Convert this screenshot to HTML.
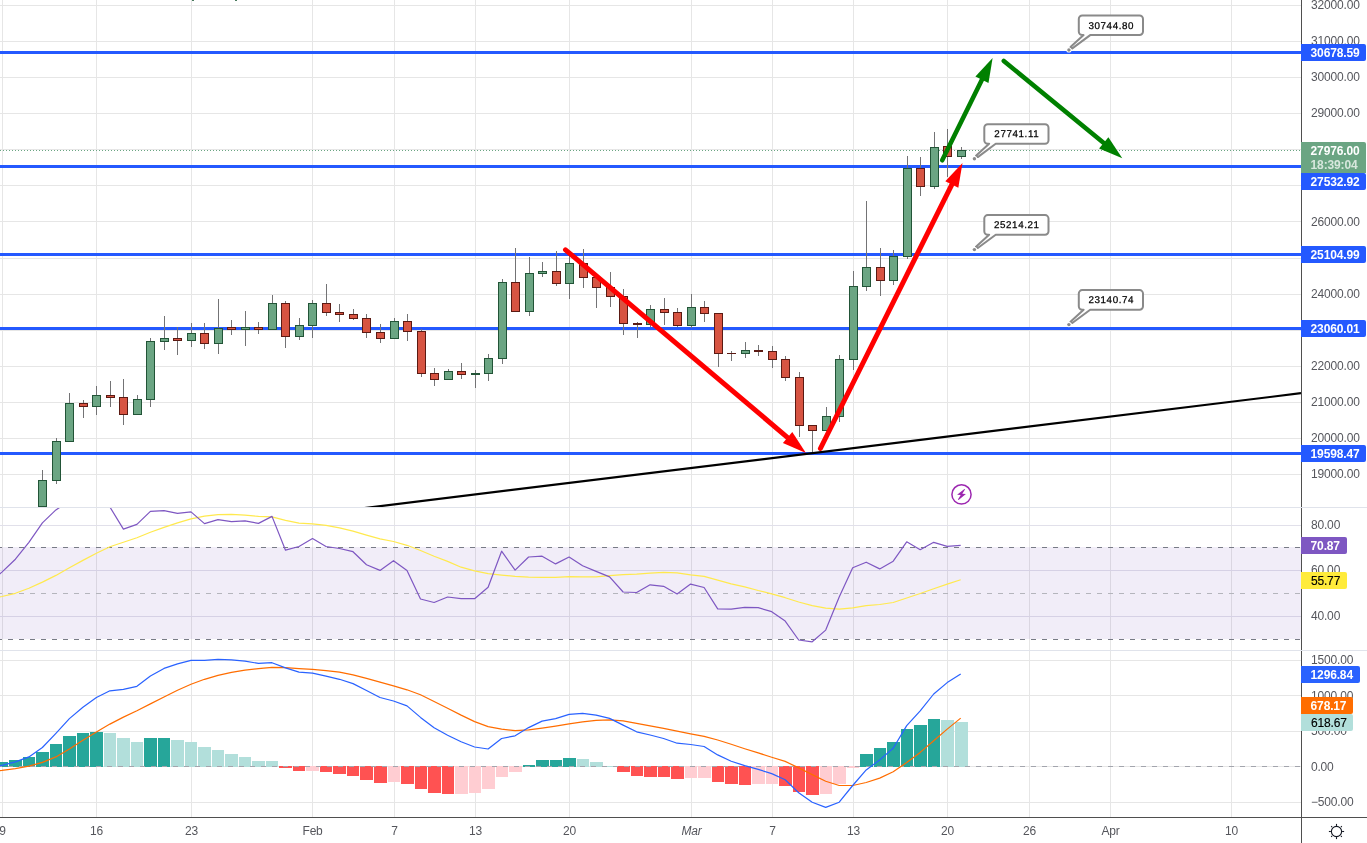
<!DOCTYPE html><html><head><meta charset="utf-8"><title>chart</title><style>html,body{margin:0;padding:0;background:#fff;overflow:hidden}body{width:1367px;height:843px;position:relative;font-family:"Liberation Sans",sans-serif}</style></head><body><svg width="1367" height="843" viewBox="0 0 1367 843" style="position:absolute;left:0;top:0;will-change:transform;font-family:'Liberation Sans',sans-serif">
<rect width="1367" height="843" fill="#fff"/>
<g shape-rendering="crispEdges">
<rect x="2" y="0" width="1" height="817" fill="#e6e6e6"/>
<rect x="96" y="0" width="1" height="817" fill="#e6e6e6"/>
<rect x="191" y="0" width="1" height="817" fill="#e6e6e6"/>
<rect x="312" y="0" width="1" height="817" fill="#e6e6e6"/>
<rect x="394" y="0" width="1" height="817" fill="#e6e6e6"/>
<rect x="475" y="0" width="1" height="817" fill="#e6e6e6"/>
<rect x="569" y="0" width="1" height="817" fill="#e6e6e6"/>
<rect x="691" y="0" width="1" height="817" fill="#e6e6e6"/>
<rect x="772" y="0" width="1" height="817" fill="#e6e6e6"/>
<rect x="853" y="0" width="1" height="817" fill="#e6e6e6"/>
<rect x="947" y="0" width="1" height="817" fill="#e6e6e6"/>
<rect x="1029" y="0" width="1" height="817" fill="#e6e6e6"/>
<rect x="1110" y="0" width="1" height="817" fill="#e6e6e6"/>
<rect x="1231" y="0" width="1" height="817" fill="#e6e6e6"/>
<rect x="0" y="5" width="1301" height="1" fill="#e6e6e6"/>
<rect x="0" y="41" width="1301" height="1" fill="#e6e6e6"/>
<rect x="0" y="77" width="1301" height="1" fill="#e6e6e6"/>
<rect x="0" y="113" width="1301" height="1" fill="#e6e6e6"/>
<rect x="0" y="149" width="1301" height="1" fill="#e6e6e6"/>
<rect x="0" y="185" width="1301" height="1" fill="#e6e6e6"/>
<rect x="0" y="221" width="1301" height="1" fill="#e6e6e6"/>
<rect x="0" y="258" width="1301" height="1" fill="#e6e6e6"/>
<rect x="0" y="294" width="1301" height="1" fill="#e6e6e6"/>
<rect x="0" y="330" width="1301" height="1" fill="#e6e6e6"/>
<rect x="0" y="366" width="1301" height="1" fill="#e6e6e6"/>
<rect x="0" y="402" width="1301" height="1" fill="#e6e6e6"/>
<rect x="0" y="438" width="1301" height="1" fill="#e6e6e6"/>
<rect x="0" y="474" width="1301" height="1" fill="#e6e6e6"/>
<rect x="0" y="525" width="1301" height="1" fill="#e1e0ea"/>
<rect x="0" y="570" width="1301" height="1" fill="#e1e0ea"/>
<rect x="0" y="616" width="1301" height="1" fill="#e1e0ea"/>
<rect x="0" y="660" width="1301" height="1" fill="#e6e6e6"/>
<rect x="0" y="695" width="1301" height="1" fill="#e6e6e6"/>
<rect x="0" y="731" width="1301" height="1" fill="#e6e6e6"/>
<rect x="0" y="766" width="1301" height="1" fill="#e6e6e6"/>
<rect x="0" y="802" width="1301" height="1" fill="#e6e6e6"/>
<rect x="0" y="547" width="1301" height="92" fill="#7e57c2" fill-opacity="0.11"/>
<rect x="0" y="507" width="1367" height="1" fill="#e0e3eb"/>
<rect x="0" y="650" width="1367" height="1" fill="#e0e3eb"/>
</g>
<g shape-rendering="crispEdges" fill="none">
<path d="M0 547.5H1301 M0 639.5H1301" stroke="#787b86" stroke-width="1" stroke-dasharray="5 6" stroke-dashoffset="3"/>
<path d="M0 593.5H1301" stroke="#b4b5bc" stroke-width="1" stroke-dasharray="5 6" stroke-dashoffset="3"/>
<path d="M0 150.5H1301" stroke="#6ba583" stroke-width="1" stroke-dasharray="1 2"/>
</g>
<g shape-rendering="crispEdges">
<rect x="0" y="51" width="1301" height="3" fill="#2459ff"/>
<rect x="0" y="165" width="1301" height="3" fill="#2459ff"/>
<rect x="0" y="253" width="1301" height="3" fill="#2459ff"/>
<rect x="0" y="327" width="1301" height="3" fill="#2459ff"/>
<rect x="0" y="452" width="1301" height="3" fill="#2459ff"/>
</g>
<g shape-rendering="crispEdges">
<rect x="42" y="470" width="1" height="37" fill="#737375"/>
<rect x="38" y="480" width="9" height="27" fill="#225437"/>
<rect x="39" y="481" width="7" height="25" fill="#6ba583"/>
<rect x="56" y="438" width="1" height="46" fill="#737375"/>
<rect x="52" y="441" width="9" height="40" fill="#225437"/>
<rect x="53" y="442" width="7" height="38" fill="#6ba583"/>
<rect x="69" y="393" width="1" height="49" fill="#737375"/>
<rect x="65" y="403" width="9" height="39" fill="#225437"/>
<rect x="66" y="404" width="7" height="37" fill="#6ba583"/>
<rect x="83" y="400" width="1" height="18" fill="#737375"/>
<rect x="79" y="403" width="9" height="4" fill="#5b1a13"/>
<rect x="80" y="404" width="7" height="2" fill="#d75442"/>
<rect x="96" y="386" width="1" height="29" fill="#737375"/>
<rect x="92" y="395" width="9" height="12" fill="#225437"/>
<rect x="93" y="396" width="7" height="10" fill="#6ba583"/>
<rect x="110" y="381" width="1" height="26" fill="#737375"/>
<rect x="106" y="395" width="9" height="3" fill="#5b1a13"/>
<rect x="107" y="396" width="7" height="1" fill="#d75442"/>
<rect x="123" y="379" width="1" height="46" fill="#737375"/>
<rect x="119" y="397" width="9" height="18" fill="#5b1a13"/>
<rect x="120" y="398" width="7" height="16" fill="#d75442"/>
<rect x="137" y="395" width="1" height="20" fill="#737375"/>
<rect x="133" y="399" width="9" height="16" fill="#225437"/>
<rect x="134" y="400" width="7" height="14" fill="#6ba583"/>
<rect x="150" y="338" width="1" height="69" fill="#737375"/>
<rect x="146" y="341" width="9" height="59" fill="#225437"/>
<rect x="147" y="342" width="7" height="57" fill="#6ba583"/>
<rect x="164" y="316" width="1" height="34" fill="#737375"/>
<rect x="160" y="338" width="9" height="4" fill="#225437"/>
<rect x="161" y="339" width="7" height="2" fill="#6ba583"/>
<rect x="177" y="327" width="1" height="28" fill="#737375"/>
<rect x="173" y="338" width="9" height="3" fill="#5b1a13"/>
<rect x="174" y="339" width="7" height="1" fill="#d75442"/>
<rect x="191" y="323" width="1" height="24" fill="#737375"/>
<rect x="187" y="333" width="9" height="8" fill="#225437"/>
<rect x="188" y="334" width="7" height="6" fill="#6ba583"/>
<rect x="204" y="323" width="1" height="26" fill="#737375"/>
<rect x="200" y="333" width="9" height="11" fill="#5b1a13"/>
<rect x="201" y="334" width="7" height="9" fill="#d75442"/>
<rect x="218" y="299" width="1" height="55" fill="#737375"/>
<rect x="214" y="328" width="9" height="16" fill="#225437"/>
<rect x="215" y="329" width="7" height="14" fill="#6ba583"/>
<rect x="231" y="320" width="1" height="15" fill="#737375"/>
<rect x="227" y="327" width="9" height="3" fill="#5b1a13"/>
<rect x="228" y="328" width="7" height="1" fill="#d75442"/>
<rect x="245" y="311" width="1" height="35" fill="#737375"/>
<rect x="241" y="327" width="9" height="3" fill="#225437"/>
<rect x="242" y="328" width="7" height="1" fill="#6ba583"/>
<rect x="258" y="322" width="1" height="12" fill="#737375"/>
<rect x="254" y="327" width="9" height="3" fill="#5b1a13"/>
<rect x="255" y="328" width="7" height="1" fill="#d75442"/>
<rect x="272" y="295" width="1" height="35" fill="#737375"/>
<rect x="268" y="303" width="9" height="27" fill="#225437"/>
<rect x="269" y="304" width="7" height="25" fill="#6ba583"/>
<rect x="285" y="301" width="1" height="47" fill="#737375"/>
<rect x="281" y="303" width="9" height="34" fill="#5b1a13"/>
<rect x="282" y="304" width="7" height="32" fill="#d75442"/>
<rect x="299" y="318" width="1" height="22" fill="#737375"/>
<rect x="295" y="325" width="9" height="12" fill="#225437"/>
<rect x="296" y="326" width="7" height="10" fill="#6ba583"/>
<rect x="312" y="300" width="1" height="38" fill="#737375"/>
<rect x="308" y="303" width="9" height="23" fill="#225437"/>
<rect x="309" y="304" width="7" height="21" fill="#6ba583"/>
<rect x="326" y="284" width="1" height="32" fill="#737375"/>
<rect x="322" y="303" width="9" height="10" fill="#5b1a13"/>
<rect x="323" y="304" width="7" height="8" fill="#d75442"/>
<rect x="339" y="304" width="1" height="18" fill="#737375"/>
<rect x="335" y="312" width="9" height="3" fill="#5b1a13"/>
<rect x="336" y="313" width="7" height="1" fill="#d75442"/>
<rect x="353" y="309" width="1" height="11" fill="#737375"/>
<rect x="349" y="314" width="9" height="5" fill="#5b1a13"/>
<rect x="350" y="315" width="7" height="3" fill="#d75442"/>
<rect x="366" y="314" width="1" height="24" fill="#737375"/>
<rect x="362" y="318" width="9" height="15" fill="#5b1a13"/>
<rect x="363" y="319" width="7" height="13" fill="#d75442"/>
<rect x="380" y="324" width="1" height="19" fill="#737375"/>
<rect x="376" y="332" width="9" height="7" fill="#5b1a13"/>
<rect x="377" y="333" width="7" height="5" fill="#d75442"/>
<rect x="394" y="318" width="1" height="21" fill="#737375"/>
<rect x="390" y="321" width="9" height="18" fill="#225437"/>
<rect x="391" y="322" width="7" height="16" fill="#6ba583"/>
<rect x="407" y="314" width="1" height="27" fill="#737375"/>
<rect x="403" y="321" width="9" height="11" fill="#5b1a13"/>
<rect x="404" y="322" width="7" height="9" fill="#d75442"/>
<rect x="421" y="329" width="1" height="48" fill="#737375"/>
<rect x="417" y="331" width="9" height="43" fill="#5b1a13"/>
<rect x="418" y="332" width="7" height="41" fill="#d75442"/>
<rect x="434" y="368" width="1" height="18" fill="#737375"/>
<rect x="430" y="373" width="9" height="7" fill="#5b1a13"/>
<rect x="431" y="374" width="7" height="5" fill="#d75442"/>
<rect x="448" y="369" width="1" height="11" fill="#737375"/>
<rect x="444" y="371" width="9" height="9" fill="#225437"/>
<rect x="445" y="372" width="7" height="7" fill="#6ba583"/>
<rect x="461" y="363" width="1" height="16" fill="#737375"/>
<rect x="457" y="371" width="9" height="4" fill="#5b1a13"/>
<rect x="458" y="372" width="7" height="2" fill="#d75442"/>
<rect x="475" y="370" width="1" height="18" fill="#737375"/>
<rect x="471" y="373" width="9" height="2" fill="#225437"/>
<rect x="488" y="354" width="1" height="27" fill="#737375"/>
<rect x="484" y="358" width="9" height="16" fill="#225437"/>
<rect x="485" y="359" width="7" height="14" fill="#6ba583"/>
<rect x="502" y="279" width="1" height="85" fill="#737375"/>
<rect x="498" y="282" width="9" height="77" fill="#225437"/>
<rect x="499" y="283" width="7" height="75" fill="#6ba583"/>
<rect x="515" y="248" width="1" height="64" fill="#737375"/>
<rect x="511" y="282" width="9" height="30" fill="#5b1a13"/>
<rect x="512" y="283" width="7" height="28" fill="#d75442"/>
<rect x="529" y="257" width="1" height="59" fill="#737375"/>
<rect x="525" y="273" width="9" height="39" fill="#225437"/>
<rect x="526" y="274" width="7" height="37" fill="#6ba583"/>
<rect x="542" y="262" width="1" height="15" fill="#737375"/>
<rect x="538" y="271" width="9" height="3" fill="#225437"/>
<rect x="539" y="272" width="7" height="1" fill="#6ba583"/>
<rect x="556" y="251" width="1" height="35" fill="#737375"/>
<rect x="552" y="271" width="9" height="13" fill="#5b1a13"/>
<rect x="553" y="272" width="7" height="11" fill="#d75442"/>
<rect x="569" y="256" width="1" height="43" fill="#737375"/>
<rect x="565" y="263" width="9" height="21" fill="#225437"/>
<rect x="566" y="264" width="7" height="19" fill="#6ba583"/>
<rect x="583" y="249" width="1" height="39" fill="#737375"/>
<rect x="579" y="263" width="9" height="15" fill="#5b1a13"/>
<rect x="580" y="264" width="7" height="13" fill="#d75442"/>
<rect x="596" y="274" width="1" height="34" fill="#737375"/>
<rect x="592" y="277" width="9" height="11" fill="#5b1a13"/>
<rect x="593" y="278" width="7" height="9" fill="#d75442"/>
<rect x="610" y="272" width="1" height="35" fill="#737375"/>
<rect x="606" y="287" width="9" height="10" fill="#5b1a13"/>
<rect x="607" y="288" width="7" height="8" fill="#d75442"/>
<rect x="623" y="289" width="1" height="46" fill="#737375"/>
<rect x="619" y="296" width="9" height="28" fill="#5b1a13"/>
<rect x="620" y="297" width="7" height="26" fill="#d75442"/>
<rect x="637" y="322" width="1" height="16" fill="#737375"/>
<rect x="633" y="323" width="9" height="2" fill="#5b1a13"/>
<rect x="650" y="305" width="1" height="22" fill="#737375"/>
<rect x="646" y="309" width="9" height="16" fill="#225437"/>
<rect x="647" y="310" width="7" height="14" fill="#6ba583"/>
<rect x="664" y="298" width="1" height="27" fill="#737375"/>
<rect x="660" y="309" width="9" height="4" fill="#5b1a13"/>
<rect x="661" y="310" width="7" height="2" fill="#d75442"/>
<rect x="677" y="308" width="1" height="19" fill="#737375"/>
<rect x="673" y="312" width="9" height="14" fill="#5b1a13"/>
<rect x="674" y="313" width="7" height="12" fill="#d75442"/>
<rect x="691" y="294" width="1" height="34" fill="#737375"/>
<rect x="687" y="307" width="9" height="19" fill="#225437"/>
<rect x="688" y="308" width="7" height="17" fill="#6ba583"/>
<rect x="704" y="301" width="1" height="21" fill="#737375"/>
<rect x="700" y="307" width="9" height="7" fill="#5b1a13"/>
<rect x="701" y="308" width="7" height="5" fill="#d75442"/>
<rect x="718" y="313" width="1" height="54" fill="#737375"/>
<rect x="714" y="313" width="9" height="41" fill="#5b1a13"/>
<rect x="715" y="314" width="7" height="39" fill="#d75442"/>
<rect x="731" y="351" width="1" height="10" fill="#737375"/>
<rect x="727" y="353" width="9" height="1" fill="#5b1a13"/>
<rect x="745" y="342" width="1" height="16" fill="#737375"/>
<rect x="741" y="350" width="9" height="4" fill="#225437"/>
<rect x="742" y="351" width="7" height="2" fill="#6ba583"/>
<rect x="758" y="345" width="1" height="11" fill="#737375"/>
<rect x="754" y="350" width="9" height="2" fill="#5b1a13"/>
<rect x="772" y="346" width="1" height="22" fill="#737375"/>
<rect x="768" y="351" width="9" height="9" fill="#5b1a13"/>
<rect x="769" y="352" width="7" height="7" fill="#d75442"/>
<rect x="785" y="356" width="1" height="25" fill="#737375"/>
<rect x="781" y="359" width="9" height="19" fill="#5b1a13"/>
<rect x="782" y="360" width="7" height="17" fill="#d75442"/>
<rect x="799" y="372" width="1" height="65" fill="#737375"/>
<rect x="795" y="377" width="9" height="49" fill="#5b1a13"/>
<rect x="796" y="378" width="7" height="47" fill="#d75442"/>
<rect x="812" y="425" width="1" height="29" fill="#737375"/>
<rect x="808" y="425" width="9" height="6" fill="#5b1a13"/>
<rect x="809" y="426" width="7" height="4" fill="#d75442"/>
<rect x="826" y="407" width="1" height="24" fill="#737375"/>
<rect x="822" y="416" width="9" height="15" fill="#225437"/>
<rect x="823" y="417" width="7" height="13" fill="#6ba583"/>
<rect x="839" y="355" width="1" height="67" fill="#737375"/>
<rect x="835" y="359" width="9" height="58" fill="#225437"/>
<rect x="836" y="360" width="7" height="56" fill="#6ba583"/>
<rect x="853" y="271" width="1" height="99" fill="#737375"/>
<rect x="849" y="286" width="9" height="74" fill="#225437"/>
<rect x="850" y="287" width="7" height="72" fill="#6ba583"/>
<rect x="866" y="201" width="1" height="90" fill="#737375"/>
<rect x="862" y="267" width="9" height="20" fill="#225437"/>
<rect x="863" y="268" width="7" height="18" fill="#6ba583"/>
<rect x="880" y="248" width="1" height="48" fill="#737375"/>
<rect x="876" y="267" width="9" height="14" fill="#5b1a13"/>
<rect x="877" y="268" width="7" height="12" fill="#d75442"/>
<rect x="893" y="250" width="1" height="35" fill="#737375"/>
<rect x="889" y="256" width="9" height="25" fill="#225437"/>
<rect x="890" y="257" width="7" height="23" fill="#6ba583"/>
<rect x="907" y="156" width="1" height="103" fill="#737375"/>
<rect x="903" y="168" width="9" height="89" fill="#225437"/>
<rect x="904" y="169" width="7" height="87" fill="#6ba583"/>
<rect x="920" y="157" width="1" height="39" fill="#737375"/>
<rect x="916" y="168" width="9" height="19" fill="#5b1a13"/>
<rect x="917" y="169" width="7" height="17" fill="#d75442"/>
<rect x="934" y="132" width="1" height="57" fill="#737375"/>
<rect x="930" y="147" width="9" height="40" fill="#225437"/>
<rect x="931" y="148" width="7" height="38" fill="#6ba583"/>
<rect x="947" y="129" width="1" height="48" fill="#737375"/>
<rect x="943" y="146" width="9" height="11" fill="#5b1a13"/>
<rect x="944" y="147" width="7" height="9" fill="#d75442"/>
<rect x="961" y="147" width="1" height="12" fill="#737375"/>
<rect x="957" y="150" width="9" height="7" fill="#225437"/>
<rect x="958" y="151" width="7" height="5" fill="#6ba583"/>
</g>
<rect x="192" y="0" width="2" height="1" fill="#4a7a5e"/><rect x="235" y="0" width="2" height="1" fill="#4a7a5e"/>
<clipPath id="c0"><rect x="0" y="0" width="1301" height="507"/></clipPath>
<path d="M330 512.3 L1301 393.2" stroke="#000" stroke-width="2.2" fill="none" clip-path="url(#c0)"/>
<path d="M565.5 249.8 L789.1 438.8" stroke="#ff0000" stroke-width="5" stroke-linecap="round" fill="none"/><path d="M805.9 453.0 L782.9 443.1 L792.3 431.9 Z" fill="#ff0000"/>
<path d="M820.4 448.5 L952.7 182.8" stroke="#ff0000" stroke-width="5" stroke-linecap="round" fill="none"/><path d="M962.5 163.1 L958.3 187.8 L945.3 181.3 Z" fill="#ff0000"/>
<path d="M942.2 160.3 L982.9 77.8" stroke="#008000" stroke-width="4.6" stroke-linecap="round" fill="none"/><path d="M992.6 58.1 L988.5 82.9 L975.4 76.4 Z" fill="#008000"/>
<path d="M1003.8 61.0 L1105.3 144.2" stroke="#008000" stroke-width="4.6" stroke-linecap="round" fill="none"/><path d="M1122.3 158.2 L1099.1 148.6 L1108.4 137.3 Z" fill="#008000"/>
<path d="M1082.3 15.5 h57.2 a3.5 3.5 0 0 1 3.5 3.5 v12.6 a3.5 3.5 0 0 1 -3.5 3.5 H1090.2 L1072.3 48.4 L1070.5 47.1 L1083.6 35.1 H1082.3 a3.5 3.5 0 0 1 -3.5 -3.5 v-12.6 a3.5 3.5 0 0 1 3.5 -3.5 z" fill="#fff" stroke="#8a8a8a" stroke-width="2" stroke-linejoin="round"/><circle cx="1068.9" cy="50.0" r="2.6" fill="#fff"/><circle cx="1068.9" cy="50.0" r="1.7" fill="#8a8a8a"/><text x="1111.3" y="29" font-size="9.8" letter-spacing="0.6" text-anchor="middle" fill="#000" stroke="#000" stroke-width="0.25" transform="rotate(0.03 1110.9 25.3)">30744.80</text>
<path d="M987.8 124.2 h57.2 a3.5 3.5 0 0 1 3.5 3.5 v12.6 a3.5 3.5 0 0 1 -3.5 3.5 H995.7 L977.8 157.1 L976.0 155.8 L989.1 143.8 H987.8 a3.5 3.5 0 0 1 -3.5 -3.5 v-12.6 a3.5 3.5 0 0 1 3.5 -3.5 z" fill="#fff" stroke="#8a8a8a" stroke-width="2" stroke-linejoin="round"/><circle cx="974.4" cy="158.7" r="2.6" fill="#fff"/><circle cx="974.4" cy="158.7" r="1.7" fill="#8a8a8a"/><text x="1016.8" y="137" font-size="9.8" letter-spacing="0.6" text-anchor="middle" fill="#000" stroke="#000" stroke-width="0.25" transform="rotate(0.03 1016.4 134.0)">27741.11</text>
<path d="M987.8 215.1 h57.2 a3.5 3.5 0 0 1 3.5 3.5 v12.6 a3.5 3.5 0 0 1 -3.5 3.5 H995.7 L977.8 248.0 L976.0 246.7 L989.1 234.7 H987.8 a3.5 3.5 0 0 1 -3.5 -3.5 v-12.6 a3.5 3.5 0 0 1 3.5 -3.5 z" fill="#fff" stroke="#8a8a8a" stroke-width="2" stroke-linejoin="round"/><circle cx="974.4" cy="249.6" r="2.6" fill="#fff"/><circle cx="974.4" cy="249.6" r="1.7" fill="#8a8a8a"/><text x="1016.8" y="228" font-size="9.8" letter-spacing="0.6" text-anchor="middle" fill="#000" stroke="#000" stroke-width="0.25" transform="rotate(0.03 1016.4 224.9)">25214.21</text>
<path d="M1082.3 290.1 h57.2 a3.5 3.5 0 0 1 3.5 3.5 v12.6 a3.5 3.5 0 0 1 -3.5 3.5 H1090.2 L1072.3 323.0 L1070.5 321.7 L1083.6 309.7 H1082.3 a3.5 3.5 0 0 1 -3.5 -3.5 v-12.6 a3.5 3.5 0 0 1 3.5 -3.5 z" fill="#fff" stroke="#8a8a8a" stroke-width="2" stroke-linejoin="round"/><circle cx="1068.9" cy="324.6" r="2.6" fill="#fff"/><circle cx="1068.9" cy="324.6" r="1.7" fill="#8a8a8a"/><text x="1111.3" y="303" font-size="9.8" letter-spacing="0.6" text-anchor="middle" fill="#000" stroke="#000" stroke-width="0.25" transform="rotate(0.03 1110.9 299.9)">23140.74</text>
<g transform="translate(961.5 494.4)"><circle r="9.6" fill="none" stroke="#9c27b0" stroke-width="1.5"/><path d="M2.9 -5.5 L3.6 -5.1 L0.8 -0.55 L4.4 -0.3 L-2.9 5.5 L-3.6 5.1 L-0.8 0.55 L-4.4 0.3 Z" fill="#9c27b0"/></g>
<clipPath id="c1"><rect x="0" y="508" width="1301" height="142"/></clipPath>
<g clip-path="url(#c1)">
<polyline points="-11.6,598.7 1.9,596.5 15.4,593.3 28.9,588.3 42.4,582.1 55.9,575.4 69.4,567.7 82.9,560.4 96.4,553.2 109.9,546.8 123.4,542.3 136.9,537.8 150.4,532.3 164.0,527.4 177.5,522.9 191.0,518.9 204.5,516.2 218.0,514.7 231.5,514.4 245.0,515.2 258.5,516.4 272.0,516.9 285.5,520.4 299.0,523.1 312.5,523.9 326.0,525.4 339.5,527.9 353.0,531.1 366.5,535.1 380.0,538.8 393.5,541.5 407.0,545.3 420.5,550.5 434.1,556.2 447.6,561.4 461.1,567.2 474.6,570.9 488.1,573.6 501.6,575.1 515.1,576.4 528.6,577.1 542.1,577.4 555.6,577.4 569.1,576.6 582.6,576.9 596.1,576.9 609.6,575.6 623.1,574.6 636.6,574.1 650.1,573.1 663.6,572.4 677.1,572.9 690.6,574.9 704.1,576.4 717.7,580.1 731.2,583.8 744.7,586.8 758.2,590.5 771.7,593.8 785.2,597.7 798.7,602.0 812.2,605.7 825.7,608.2 839.2,609.2 852.7,607.9 866.2,605.7 879.7,604.5 893.2,602.5 906.7,598.0 920.2,593.5 933.7,588.8 947.2,584.1 960.7,579.8" fill="none" stroke="#ffe94e" stroke-width="1.2" stroke-linejoin="round"/>
<polyline points="-11.6,583.3 1.9,572.1 15.4,559.2 28.9,542.3 42.4,522.9 55.9,509.9 69.4,501.2 82.9,496.3 96.4,497.5 109.9,507.0 123.4,529.1 136.9,524.4 150.4,511.4 164.0,510.7 177.5,513.4 191.0,511.9 204.5,523.6 218.0,519.6 231.5,521.6 245.0,520.9 258.5,523.4 272.0,516.4 285.5,550.2 299.0,546.5 312.5,538.6 326.0,546.5 339.5,548.5 353.0,551.7 366.5,564.7 380.0,570.4 393.5,560.7 407.0,570.4 420.5,599.0 434.1,602.5 447.6,597.0 461.1,598.7 474.6,598.7 488.1,587.3 501.6,551.2 515.1,570.1 528.6,557.0 542.1,556.2 555.6,563.9 569.1,557.0 582.6,565.7 596.1,571.4 609.6,576.9 623.1,592.0 636.6,592.5 650.1,584.8 663.6,586.3 677.1,594.0 690.6,584.1 704.1,587.5 717.7,608.9 731.2,609.2 744.7,607.4 758.2,607.7 771.7,611.7 785.2,621.1 798.7,640.0 812.2,641.8 825.7,630.1 839.2,597.0 852.7,567.7 866.2,562.2 879.7,568.9 893.2,561.2 906.7,541.8 920.2,549.7 933.7,542.3 947.2,546.3 960.7,545.3" fill="none" stroke="#7e57c2" stroke-width="1.2" stroke-linejoin="round"/>
</g>
<g shape-rendering="crispEdges">
<rect x="-18" y="762" width="13" height="5" fill="#26a69a"/>
<rect x="-4" y="762" width="12" height="5" fill="#26a69a"/>
<rect x="9" y="760" width="13" height="7" fill="#26a69a"/>
<rect x="23" y="757" width="12" height="10" fill="#26a69a"/>
<rect x="36" y="752" width="13" height="15" fill="#26a69a"/>
<rect x="50" y="744" width="12" height="23" fill="#26a69a"/>
<rect x="63" y="736" width="13" height="31" fill="#26a69a"/>
<rect x="77" y="733" width="12" height="34" fill="#26a69a"/>
<rect x="90" y="732" width="13" height="35" fill="#26a69a"/>
<rect x="104" y="733" width="12" height="34" fill="#b2dfdb"/>
<rect x="117" y="738" width="13" height="29" fill="#b2dfdb"/>
<rect x="131" y="742" width="12" height="25" fill="#b2dfdb"/>
<rect x="144" y="738" width="13" height="29" fill="#26a69a"/>
<rect x="158" y="738" width="12" height="29" fill="#26a69a"/>
<rect x="171" y="740" width="13" height="27" fill="#b2dfdb"/>
<rect x="185" y="742" width="12" height="25" fill="#b2dfdb"/>
<rect x="198" y="747" width="13" height="20" fill="#b2dfdb"/>
<rect x="212" y="750" width="12" height="17" fill="#b2dfdb"/>
<rect x="225" y="754" width="13" height="13" fill="#b2dfdb"/>
<rect x="239" y="757" width="12" height="10" fill="#b2dfdb"/>
<rect x="252" y="761" width="13" height="6" fill="#b2dfdb"/>
<rect x="266" y="761" width="12" height="6" fill="#b2dfdb"/>
<rect x="279" y="766" width="13" height="2" fill="#ff5252"/>
<rect x="293" y="766" width="12" height="5" fill="#ff5252"/>
<rect x="306" y="766" width="13" height="5" fill="#ffcdd2"/>
<rect x="320" y="766" width="12" height="6" fill="#ff5252"/>
<rect x="333" y="766" width="13" height="8" fill="#ff5252"/>
<rect x="347" y="766" width="12" height="10" fill="#ff5252"/>
<rect x="360" y="766" width="13" height="14" fill="#ff5252"/>
<rect x="374" y="766" width="13" height="17" fill="#ff5252"/>
<rect x="388" y="766" width="12" height="16" fill="#ffcdd2"/>
<rect x="401" y="766" width="13" height="18" fill="#ff5252"/>
<rect x="415" y="766" width="12" height="23" fill="#ff5252"/>
<rect x="428" y="766" width="13" height="27" fill="#ff5252"/>
<rect x="442" y="766" width="12" height="28" fill="#ff5252"/>
<rect x="455" y="766" width="13" height="28" fill="#ffcdd2"/>
<rect x="469" y="766" width="12" height="27" fill="#ffcdd2"/>
<rect x="482" y="766" width="13" height="23" fill="#ffcdd2"/>
<rect x="496" y="766" width="12" height="11" fill="#ffcdd2"/>
<rect x="509" y="766" width="13" height="6" fill="#ffcdd2"/>
<rect x="523" y="765" width="12" height="2" fill="#26a69a"/>
<rect x="536" y="760" width="13" height="7" fill="#26a69a"/>
<rect x="550" y="760" width="12" height="7" fill="#26a69a"/>
<rect x="563" y="758" width="13" height="9" fill="#26a69a"/>
<rect x="577" y="759" width="12" height="8" fill="#b2dfdb"/>
<rect x="590" y="762" width="13" height="5" fill="#b2dfdb"/>
<rect x="604" y="766" width="12" height="1" fill="#b2dfdb"/>
<rect x="617" y="766" width="13" height="6" fill="#ff5252"/>
<rect x="631" y="766" width="12" height="10" fill="#ff5252"/>
<rect x="644" y="766" width="13" height="11" fill="#ff5252"/>
<rect x="658" y="766" width="12" height="11" fill="#ff5252"/>
<rect x="671" y="766" width="13" height="13" fill="#ff5252"/>
<rect x="685" y="766" width="12" height="12" fill="#ffcdd2"/>
<rect x="698" y="766" width="13" height="12" fill="#ffcdd2"/>
<rect x="712" y="766" width="12" height="16" fill="#ff5252"/>
<rect x="725" y="766" width="13" height="18" fill="#ff5252"/>
<rect x="739" y="766" width="12" height="19" fill="#ff5252"/>
<rect x="752" y="766" width="13" height="18" fill="#ffcdd2"/>
<rect x="766" y="766" width="12" height="18" fill="#ffcdd2"/>
<rect x="779" y="766" width="13" height="20" fill="#ff5252"/>
<rect x="793" y="766" width="12" height="26" fill="#ff5252"/>
<rect x="806" y="766" width="13" height="29" fill="#ff5252"/>
<rect x="820" y="766" width="12" height="28" fill="#ffcdd2"/>
<rect x="833" y="766" width="13" height="18" fill="#ffcdd2"/>
<rect x="847" y="766" width="12" height="2" fill="#ffcdd2"/>
<rect x="860" y="754" width="13" height="13" fill="#26a69a"/>
<rect x="874" y="748" width="12" height="19" fill="#26a69a"/>
<rect x="887" y="742" width="13" height="25" fill="#26a69a"/>
<rect x="901" y="729" width="12" height="38" fill="#26a69a"/>
<rect x="914" y="725" width="13" height="42" fill="#26a69a"/>
<rect x="928" y="719" width="12" height="48" fill="#26a69a"/>
<rect x="941" y="720" width="13" height="47" fill="#b2dfdb"/>
<rect x="955" y="722" width="13" height="45" fill="#b2dfdb"/>
</g>
<path d="M0 766.5H1301" stroke="#a3a5ad" stroke-width="1" stroke-dasharray="5 6" stroke-dashoffset="3" shape-rendering="crispEdges" fill="none"/>
<polyline points="-11.6,771.6 1.9,770.4 15.4,768.6 28.9,766.1 42.4,762.4 55.9,756.9 69.4,749.0 82.9,740.3 96.4,732.1 109.9,724.1 123.4,717.1 136.9,710.7 150.4,703.9 164.0,697.0 177.5,690.3 191.0,684.3 204.5,679.3 218.0,675.3 231.5,672.4 245.0,670.1 258.5,668.6 272.0,667.4 285.5,667.6 299.0,668.6 312.5,669.4 326.0,670.6 339.5,672.1 353.0,674.8 366.5,678.3 380.0,682.1 393.5,685.8 407.0,689.8 420.5,694.7 434.1,701.5 447.6,708.2 461.1,715.1 474.6,721.6 488.1,726.6 501.6,729.1 515.1,730.6 528.6,729.8 542.1,728.1 555.6,726.1 569.1,723.8 582.6,721.9 596.1,720.4 609.6,719.9 623.1,720.9 636.6,723.3 650.1,725.8 663.6,728.3 677.1,731.1 690.6,733.8 704.1,736.3 717.7,740.0 731.2,744.2 744.7,748.7 758.2,752.9 771.7,757.2 785.2,761.4 798.7,767.9 812.2,774.6 825.7,781.3 839.2,785.5 852.7,785.5 866.2,782.5 879.7,778.1 893.2,771.8 906.7,762.6 920.2,752.4 933.7,740.8 947.2,729.1 960.7,718.1" fill="none" stroke="#ff6d00" stroke-width="1.2" stroke-linejoin="round"/>
<polyline points="-11.6,767.4 1.9,765.4 15.4,761.9 28.9,756.9 42.4,747.5 55.9,733.3 69.4,718.6 82.9,707.2 96.4,697.5 109.9,690.8 123.4,689.3 136.9,686.3 150.4,676.1 164.0,668.4 177.5,663.9 191.0,660.4 204.5,660.4 218.0,659.4 231.5,659.9 245.0,661.2 258.5,663.4 272.0,662.7 285.5,667.9 299.0,672.1 312.5,673.1 326.0,676.1 339.5,679.3 353.0,683.6 366.5,690.5 380.0,697.5 393.5,701.0 407.0,705.9 420.5,717.4 434.1,727.8 447.6,735.3 461.1,741.8 474.6,747.0 488.1,749.0 501.6,738.5 515.1,735.8 528.6,727.6 542.1,721.1 555.6,718.6 569.1,714.4 582.6,713.4 596.1,715.1 609.6,718.4 623.1,725.1 636.6,731.8 650.1,735.0 663.6,738.5 677.1,743.2 690.6,744.5 704.1,746.5 717.7,754.9 731.2,761.2 744.7,765.6 758.2,769.4 771.7,773.6 785.2,779.8 798.7,792.7 812.2,802.2 825.7,807.4 839.2,802.2 852.7,785.5 866.2,769.9 879.7,759.9 893.2,748.2 906.7,725.6 920.2,710.9 933.7,694.0 947.2,682.6 960.7,674.1" fill="none" stroke="#2962ff" stroke-width="1.2" stroke-linejoin="round"/>
<rect x="1302" y="0" width="65" height="843" fill="#fff"/>
<rect x="0" y="818" width="1367" height="25" fill="#fff"/>
<g shape-rendering="crispEdges">
<rect x="1301" y="0" width="1" height="843" fill="#4f4f4f"/>
<rect x="1301" y="507" width="66" height="1" fill="#e0e3eb"/>
<rect x="1301" y="650" width="66" height="1" fill="#e0e3eb"/>
<rect x="0" y="817" width="1367" height="1" fill="#4f4f4f"/>
</g>
<text x="1310.9" y="9.1" font-size="12" letter-spacing="-0.15" fill="#55565c">32000.00</text>
<text x="1310.9" y="45.2" font-size="12" letter-spacing="-0.15" fill="#55565c">31000.00</text>
<text x="1310.9" y="81.3" font-size="12" letter-spacing="-0.15" fill="#55565c">30000.00</text>
<text x="1310.9" y="117.3" font-size="12" letter-spacing="-0.15" fill="#55565c">29000.00</text>
<text x="1310.9" y="225.6" font-size="12" letter-spacing="-0.15" fill="#55565c">26000.00</text>
<text x="1310.9" y="297.7" font-size="12" letter-spacing="-0.15" fill="#55565c">24000.00</text>
<text x="1310.9" y="369.9" font-size="12" letter-spacing="-0.15" fill="#55565c">22000.00</text>
<text x="1310.9" y="406.0" font-size="12" letter-spacing="-0.15" fill="#55565c">21000.00</text>
<text x="1310.9" y="442.1" font-size="12" letter-spacing="-0.15" fill="#55565c">20000.00</text>
<text x="1310.9" y="478.1" font-size="12" letter-spacing="-0.15" fill="#55565c">19000.00</text>
<text x="1310.9" y="529.0" font-size="12" letter-spacing="-0.15" fill="#55565c">80.00</text>
<text x="1310.9" y="574.3" font-size="12" letter-spacing="-0.15" fill="#55565c">60.00</text>
<text x="1310.9" y="620.0" font-size="12" letter-spacing="-0.15" fill="#55565c">40.00</text>
<text x="1310.9" y="664.3" font-size="12" letter-spacing="-0.15" fill="#55565c">1500.00</text>
<text x="1310.9" y="699.8" font-size="12" letter-spacing="-0.15" fill="#55565c">1000.00</text>
<text x="1310.9" y="735.3" font-size="12" letter-spacing="-0.15" fill="#55565c">500.00</text>
<text x="1310.9" y="770.9" font-size="12" letter-spacing="-0.15" fill="#55565c">0.00</text>
<text x="1310.9" y="806.3" font-size="12" letter-spacing="-0.15" fill="#55565c">−500.00</text>
<path d="M1301 44 H1364.0 a2 2 0 0 1 2 2 V59.0 a2 2 0 0 1 -2 2 H1301 Z" fill="#2459ff"/><text x="1310.6" y="56.8" font-size="12" letter-spacing="-0.15" fill="#fff" font-weight="bold">30678.59</text>
<path d="M1301 142 H1364 a2 2 0 0 1 2 2 V173 H1301 Z" fill="#6ba583"/>
<text x="1310.6" y="154.9" font-size="12" letter-spacing="-0.15" fill="#fff" font-weight="bold">27976.00</text>
<text x="1310.6" y="168.9" font-size="12" letter-spacing="-0.15" fill="#d7e7dd" font-weight="bold">18:39:04</text>
<path d="M1301 173 H1364.0 a2 2 0 0 1 2 2 V188.0 a2 2 0 0 1 -2 2 H1301 Z" fill="#2459ff"/><text x="1310.6" y="185.8" font-size="12" letter-spacing="-0.15" fill="#fff" font-weight="bold">27532.92</text>
<path d="M1301 246 H1364.0 a2 2 0 0 1 2 2 V261.0 a2 2 0 0 1 -2 2 H1301 Z" fill="#2459ff"/><text x="1310.6" y="258.8" font-size="12" letter-spacing="-0.15" fill="#fff" font-weight="bold">25104.99</text>
<path d="M1301 320 H1364.0 a2 2 0 0 1 2 2 V335.0 a2 2 0 0 1 -2 2 H1301 Z" fill="#2459ff"/><text x="1310.6" y="332.8" font-size="12" letter-spacing="-0.15" fill="#fff" font-weight="bold">23060.01</text>
<path d="M1301 445 H1364.0 a2 2 0 0 1 2 2 V460.0 a2 2 0 0 1 -2 2 H1301 Z" fill="#2459ff"/><text x="1310.6" y="457.8" font-size="12" letter-spacing="-0.15" fill="#fff" font-weight="bold">19598.47</text>
<path d="M1301 537 H1345.0 a2 2 0 0 1 2 2 V552.0 a2 2 0 0 1 -2 2 H1301 Z" fill="#7e57c2"/><text x="1310.6" y="549.8" font-size="12" letter-spacing="-0.15" fill="#fff" font-weight="bold">70.87</text>
<path d="M1301 572 H1345.0 a2 2 0 0 1 2 2 V587.0 a2 2 0 0 1 -2 2 H1301 Z" fill="#ffeb3b"/><text x="1310.9" y="584.8" font-size="12" letter-spacing="-0.15" fill="#000" stroke="#000" stroke-width="0.15">55.77</text>
<path d="M1301 666 H1358.0 a2 2 0 0 1 2 2 V681.0 a2 2 0 0 1 -2 2 H1301 Z" fill="#2962ff"/><text x="1310.6" y="678.8" font-size="12" letter-spacing="-0.15" fill="#fff" font-weight="bold">1296.84</text>
<path d="M1301 697 H1351.0 a2 2 0 0 1 2 2 V712.0 a2 2 0 0 1 -2 2 H1301 Z" fill="#ff6d00"/><text x="1310.6" y="709.8" font-size="12" letter-spacing="-0.15" fill="#fff" font-weight="bold">678.17</text>
<path d="M1301 714 H1351.0 a2 2 0 0 1 2 2 V729.0 a2 2 0 0 1 -2 2 H1301 Z" fill="#b2dfdb"/><text x="1310.9" y="726.8" font-size="12" letter-spacing="-0.15" fill="#000" stroke="#000" stroke-width="0.15">618.67</text>
<text x="2.5" y="835.3" font-size="12" letter-spacing="-0.28" text-anchor="middle" fill="#55565c">9</text>
<text x="96.5" y="835.3" font-size="12" letter-spacing="-0.28" text-anchor="middle" fill="#55565c">16</text>
<text x="191.5" y="835.3" font-size="12" letter-spacing="-0.28" text-anchor="middle" fill="#55565c">23</text>
<text x="312.5" y="835.3" font-size="12" letter-spacing="-0.28" text-anchor="middle" fill="#55565c">Feb</text>
<text x="394.5" y="835.3" font-size="12" letter-spacing="-0.28" text-anchor="middle" fill="#55565c">7</text>
<text x="475.5" y="835.3" font-size="12" letter-spacing="-0.28" text-anchor="middle" fill="#55565c">13</text>
<text x="569.5" y="835.3" font-size="12" letter-spacing="-0.28" text-anchor="middle" fill="#55565c">20</text>
<text x="691.5" y="835.3" font-size="12" letter-spacing="-0.28" text-anchor="middle" fill="#55565c" font-style="italic">Mar</text>
<text x="772.5" y="835.3" font-size="12" letter-spacing="-0.28" text-anchor="middle" fill="#55565c">7</text>
<text x="853.5" y="835.3" font-size="12" letter-spacing="-0.28" text-anchor="middle" fill="#55565c">13</text>
<text x="947.5" y="835.3" font-size="12" letter-spacing="-0.28" text-anchor="middle" fill="#55565c">20</text>
<text x="1029.5" y="835.3" font-size="12" letter-spacing="-0.28" text-anchor="middle" fill="#55565c">26</text>
<text x="1110.5" y="835.3" font-size="12" letter-spacing="-0.28" text-anchor="middle" fill="#55565c">Apr</text>
<text x="1231.5" y="835.3" font-size="12" letter-spacing="-0.28" text-anchor="middle" fill="#55565c">10</text>
<g transform="translate(1336.5 831.5)" stroke="#131722" fill="none"><circle r="5.1" stroke-width="1.1"/><path d="M5.60 0.00 L7.60 0.00" stroke-width="1.1"/><path d="M4.45 4.45 L5.30 5.30" stroke-width="1.1"/><path d="M0.00 5.60 L0.00 7.60" stroke-width="1.1"/><path d="M-4.45 4.45 L-5.30 5.30" stroke-width="1.1"/><path d="M-5.60 0.00 L-7.60 0.00" stroke-width="1.1"/><path d="M-4.45 -4.45 L-5.30 -5.30" stroke-width="1.1"/><path d="M-0.00 -5.60 L-0.00 -7.60" stroke-width="1.1"/><path d="M4.45 -4.45 L5.30 -5.30" stroke-width="1.1"/></g>
</svg></body></html>
